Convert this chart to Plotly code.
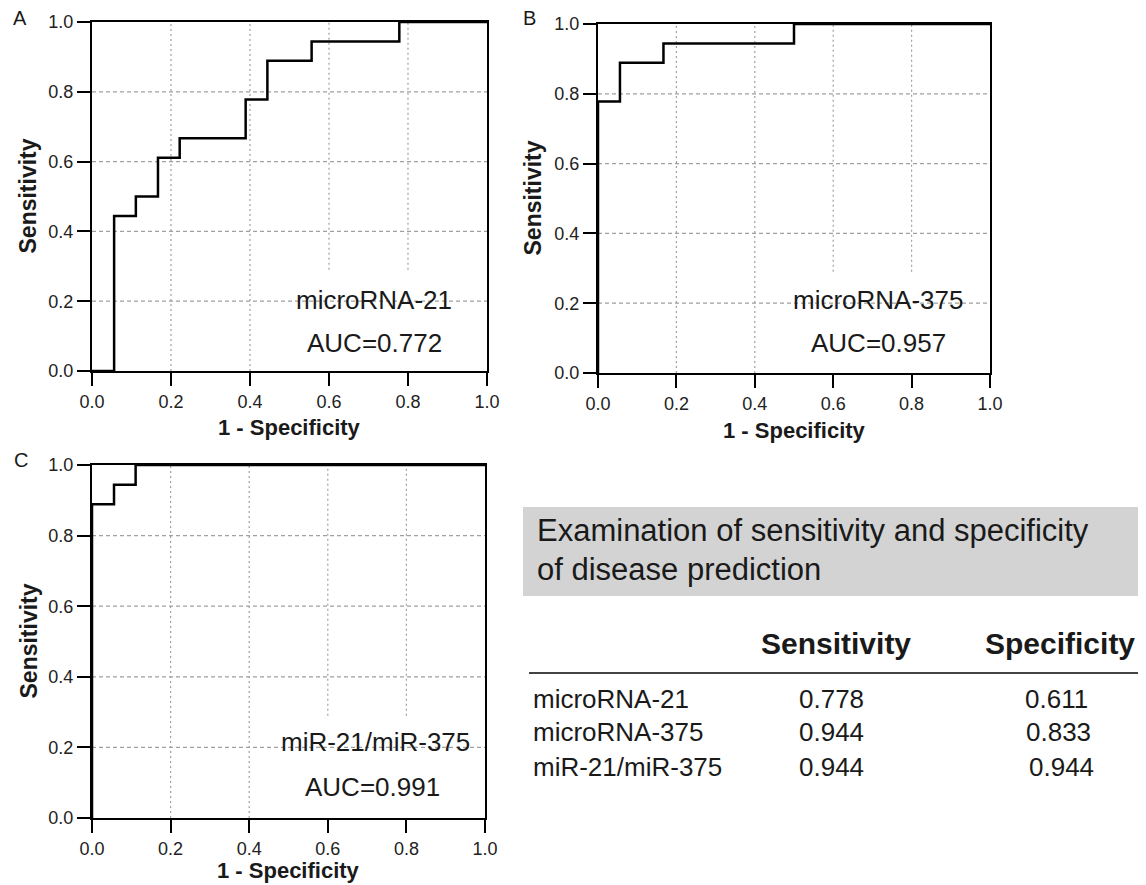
import plotly.graph_objects as go

# page body has an 8px margin: size the figure so it fits the 1146x885 window
OFF = 8
W, H = 1146 - OFF, 885 - OFF

# ---- data ----
fpr_mir21 = [0.0, 0.056, 0.111, 0.167, 0.222, 0.389, 0.444, 0.556, 0.778, 1.0]
tpr_mir21 = [0.0, 0.444, 0.500, 0.611, 0.667, 0.778, 0.889, 0.944, 1.0, 1.0]

fpr_mir375 = [0.0, 0.0, 0.056, 0.167, 0.500, 1.0]
tpr_mir375 = [0.0, 0.778, 0.889, 0.944, 1.0, 1.0]

fpr_ratio = [0.0, 0.0, 0.056, 0.111, 1.0]
tpr_ratio = [0.0, 0.889, 0.944, 1.0, 1.0]

panel_names = ["microRNA-21", "microRNA-375", "miR-21/miR-375"]
panel_auc = ["AUC=0.772", "AUC=0.957", "AUC=0.991"]
panel_letters = ["A", "B", "C"]

table_title = ["Examination of sensitivity and specificity", "of disease prediction"]
table_cols = ["Sensitivity", "Specificity"]
table_rows = ["microRNA-21", "microRNA-375", "miR-21/miR-375"]
table_sens = ["0.778", "0.944", "0.944"]
table_spec = ["0.611", "0.833", "0.944"]
tick_vals = [0.0, 0.2, 0.4, 0.6, 0.8, 1.0]

FONT = "Arial, Liberation Sans, sans-serif"
TXT = "#1a1a1a"


def px_x(p):
    return (p - OFF) / W


def px_y(p):
    return 1 - (p - OFF) / H


def ann(text, x, y, size, xanchor="center", angle=0):
    return dict(text=text, x=px_x(x), y=px_y(y), xref="paper", yref="paper",
                showarrow=False, xanchor=xanchor, yanchor="middle", textangle=angle,
                font=dict(size=size, color=TXT, family=FONT))


# panel pixel boxes in window pixels: (left, right, top, bottom)
boxes = [(92, 487, 22, 371), (598, 990, 24, 373), (92, 485, 465, 818)]
curves = [(fpr_mir21, tpr_mir21), (fpr_mir375, tpr_mir375), (fpr_ratio, tpr_ratio)]
label_pos = [(374, 300, 374, 343), (878, 300, 878, 343), (375, 742, 372, 787)]
ylab_x = [28, 533, 28]
xlab_dy = [57, 57, 52]
letter_pos = [(20, 18), (529, 18), (21, 460)]

fig = go.Figure()
layout = dict(
    width=W, height=H, autosize=False, margin=dict(l=0, r=0, t=0, b=0, pad=0),
    paper_bgcolor="white", plot_bgcolor="white", showlegend=False,
    font=dict(family=FONT, color=TXT),
)
shapes = []
annotations = []

for i, ((l, r, t, b), (xs, ys)) in enumerate(zip(boxes, curves)):
    sfx = "" if i == 0 else str(i + 1)
    xa, ya = "x" + sfx, "y" + sfx
    fig.add_trace(go.Scatter(x=xs, y=ys, mode="lines", line_shape="hv",
                             line=dict(color="black", width=2.5),
                             xaxis=xa, yaxis=ya, cliponaxis=False, hoverinfo="skip"))
    ax_common = dict(range=[0, 1], tickvals=tick_vals, tickformat=".1f", automargin=False,
                     showgrid=False, zeroline=False, showline=True, mirror=True,
                     linecolor="black", linewidth=2, ticks="outside", ticklen=13,
                     tickwidth=2, tickcolor="black",
                     tickfont=dict(size=18, color="#222", family=FONT), fixedrange=True)
    layout["xaxis" + sfx] = dict(ax_common, domain=[px_x(l), px_x(r)], anchor=ya)
    layout["yaxis" + sfx] = dict(ax_common, domain=[px_y(b), px_y(t)], anchor=xa)

    # grid lines (dashed); vertical ones at 0.6/0.8 interrupted near the label area
    for v in tick_vals[1:-1]:
        shapes.append(dict(type="line", xref=xa, yref=ya, x0=0, x1=1, y0=v, y1=v,
                           line=dict(color="#a0a0a0", width=1.2, dash="4px,3px"), layer="below"))
        ystart = 0.29 if v >= 0.6 else 0
        shapes.append(dict(type="line", xref=xa, yref=ya, x0=v, x1=v, y0=ystart, y1=1,
                           line=dict(color="#a0a0a0", width=1.2, dash="2px,3px"), layer="below"))

    lx, ly, axx, axy = label_pos[i]
    annotations.append(ann(panel_names[i], lx, ly, 26))
    annotations.append(ann(panel_auc[i], axx, axy, 26))
    annotations.append(ann("<b>Sensitivity</b>", ylab_x[i], (t + b) / 2, 23, angle=-90))
    annotations.append(ann("<b>1 - Specificity</b>", (l + r) / 2, b + xlab_dy[i], 22))
    annotations.append(ann(panel_letters[i], letter_pos[i][0], letter_pos[i][1], 20))

# ---- table panel ----
shapes.append(dict(type="rect", xref="paper", yref="paper", x0=px_x(523), x1=1.0,
                   y0=px_y(596), y1=px_y(507), fillcolor="#d3d3d3", line=dict(width=0), layer="below"))
annotations.append(ann(table_title[0], 535, 530, 31, xanchor="left"))
annotations.append(ann(table_title[1], 535, 569, 31, xanchor="left"))
annotations.append(ann("<b>%s</b>" % table_cols[0], 836, 643, 30))
annotations.append(ann("<b>%s</b>" % table_cols[1], 1060, 643, 30))
shapes.append(dict(type="line", xref="paper", yref="paper", x0=px_x(529), x1=px_x(1141),
                   y0=px_y(673), y1=px_y(673), line=dict(color="#444", width=2)))
row_y = [699, 732, 767]
spec_x = [1056, 1058, 1061]
for name, se, sp, yy, sx in zip(table_rows, table_sens, table_spec, row_y, spec_x):
    annotations.append(ann(name, 531, yy, 26, xanchor="left"))
    annotations.append(ann(se, 831, yy, 26))
    annotations.append(ann(sp, sx, yy, 26))

layout["shapes"] = shapes
layout["annotations"] = annotations
fig.update_layout(**layout)
fig.write_html("out.html")
